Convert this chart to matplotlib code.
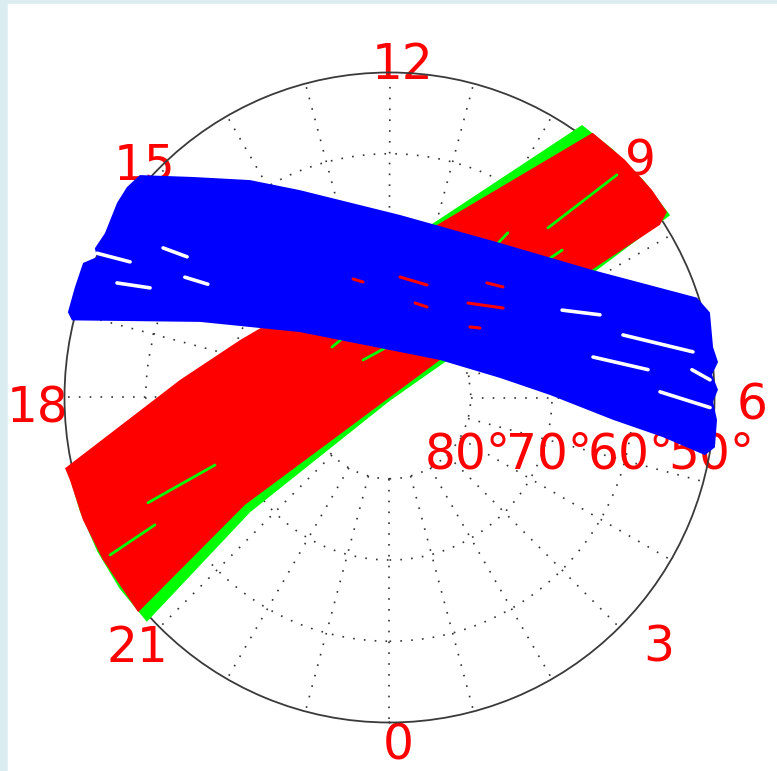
import numpy as np
import matplotlib
matplotlib.use('Agg')
import matplotlib.pyplot as plt
from matplotlib.patches import Rectangle

# Band outlines on the sky: hour angle (h) and elevation (deg)
green_hour = [18.94, 17.77, 16.71, 11.03, 9.65, 9.20, 8.70, 8.20, 8.10, 8.17,
              0.50, 20.63, 20.85, 20.35, 19.85, 19.35]
green_elev = [49.45, 64.17, 70.50, 67.69, 48.94, 48.90, 48.85, 48.82, 60.36, 81.89,
              89.60, 67.79, 49.33, 49.30, 49.35, 49.40]

red_hour = [18.82, 17.68, 16.60, 10.92, 9.50, 9.02, 8.56, 8.25, 8.17, 8.15,
            8.44, 8.30, 20.44, 20.70, 19.97, 19.45, 18.97]
red_elev = [49.13, 64.13, 70.29, 67.64, 48.93, 48.83, 48.82, 48.92, 50.52, 60.55,
            82.26, 90.00, 67.83, 49.32, 49.46, 49.37, 49.38]

blue_hour = [15.22, 14.78, 14.18, 13.56, 11.78, 9.63, 8.15, 7.20, 6.99, 6.59,
             6.41, 6.27, 6.09, 5.95, 5.74, 5.42, 5.31, 5.45, 5.62, 6.06,
             6.67, 8.44, 15.59, 16.55, 17.09, 17.01, 16.71, 16.42, 16.29, 16.21,
             16.00, 15.63, 15.42]
blue_elev = [48.85, 53.65, 58.20, 62.19, 67.50, 66.62, 60.55, 50.22, 49.20, 49.70,
             49.33, 50.21, 49.56, 50.18, 49.60, 49.48, 50.53, 55.99, 62.35, 70.24,
             76.19, 82.26, 76.35, 64.89, 49.78, 49.05, 48.97, 48.81, 50.06, 49.35,
             49.56, 48.79, 48.59]

# gaps between tracks (start, end) inside the bands
white_gap_hour = [[16.25, 16.16], [16.48, 16.36], [15.77, 15.68], [15.97, 15.87],
                  [7.79, 7.43], [7.00, 6.57], [6.75, 6.41], [6.08, 5.88], [6.35, 6.21]]
white_gap_elev = [[49.85, 53.97], [53.62, 57.59], [56.60, 59.66], [60.78, 63.65],
                  [66.19, 62.17], [60.25, 52.23], [64.46, 58.00], [56.70, 50.53], [52.62, 50.49]]

red_gap_hour = [[11.67, 10.77], [10.99, 10.50], [9.35, 8.55], [9.31, 8.95],
                [13.14, 12.86], [8.75, 8.50]]
red_gap_elev = [[75.11, 75.40], [77.95, 77.94], [74.88, 72.21], [71.49, 70.50],
                [74.74, 75.42], [76.83, 75.96]]

green_gap_hour = [[9.13, 8.96], [9.66, 9.62], [8.73, 8.70], [19.96, 19.90],
                  [19.57, 19.41], [15.25, 14.53], [14.35, 12.19]]
green_gap_elev = [[61.44, 50.84], [66.76, 65.05], [63.83, 62.06], [50.52, 57.15],
                  [57.57, 66.97], [80.58, 80.71], [84.35, 83.78]]

hour_labels = ['0', '3', '6', '9', '12', '15', '18', '21']
ring_elev = [80, 70, 60, 50]


def th(h):
    return np.radians(np.asarray(h) * 15.0)


fig = plt.figure(figsize=(7.77, 7.71), dpi=100, facecolor='#dcedf2')
fig.patches.append(Rectangle((8 / 777, 0), 1, 767 / 771, transform=fig.transFigure,
                             color='white', zorder=-10))

cx, cy, R = 389.5, 397.5, 325.0
ax = fig.add_axes([(cx - R) / 777, (771 - cy - R) / 771, 2 * R / 777, 2 * R / 771],
                  projection='polar')
ax.set_theta_zero_location('S')
ax.set_theta_direction(1)
ax.set_ylim(90, 50)
ax.set_facecolor('white')
ax.set_axisbelow(True)

dot = (0, (1, 5.5))
ax.set_xticks([])
ax.set_yticks(ring_elev[:-1])
ax.set_yticklabels([])
ax.yaxis.grid(True, color='#333333', linestyle=dot, linewidth=1.2)
for h in range(24):
    ax.plot([th(h), th(h)], [80, 50], color='#333333', ls=dot, lw=1.2, zorder=0.6)
ax.spines['polar'].set_color('#3a3a3a')
ax.spines['polar'].set_linewidth(1.3)

# labels (drawn under the tracks)
fs = 35
lab_off = {'12': (13, -319), '9': (251, -222), '6': (363, 22), '3': (269, 264),
           '0': (9, 362), '21': (-252, 264), '18': (-352, 25), '15': (-245, -218)}
for lab in hour_labels:
    dx, dy = lab_off[lab]
    ax.text(0.5 + dx / 650, 0.5 - dy / 650, lab, transform=ax.transAxes, color='red',
            fontsize=fs, ha='center', va='baseline', zorder=1)
for e in ring_elev:
    rf = (90 - e) / 40 * 0.5
    ax.text(0.5 + rf - 0.0708, 0.5 - 71 / 650, f'{e}°', transform=ax.transAxes,
            color='red', fontsize=fs, ha='left', va='baseline', zorder=1)

ax.fill(th(green_hour), green_elev, color='#00ff00', lw=0, zorder=3, clip_on=False)
ax.fill(th(red_hour), red_elev, color='#ff0000', lw=0, zorder=4, clip_on=False)
for hh, ee in zip(green_gap_hour, green_gap_elev):
    ax.plot(th(hh), ee, color='#00ff00', lw=2, solid_capstyle='round', zorder=4.5)
ax.fill(th(blue_hour), blue_elev, color='#0000ff', lw=0, zorder=5, clip_on=False)
for hh, ee in zip(red_gap_hour, red_gap_elev):
    ax.plot(th(hh), ee, color='#ff0000', lw=2.2, solid_capstyle='round', zorder=5.5)
for hh, ee in zip(white_gap_hour, white_gap_elev):
    ax.plot(th(hh), ee, color='white', lw=2.6, solid_capstyle='round', zorder=5.5,
            clip_on=False)

fig.savefig('out.png', dpi=100, facecolor=fig.get_facecolor())
